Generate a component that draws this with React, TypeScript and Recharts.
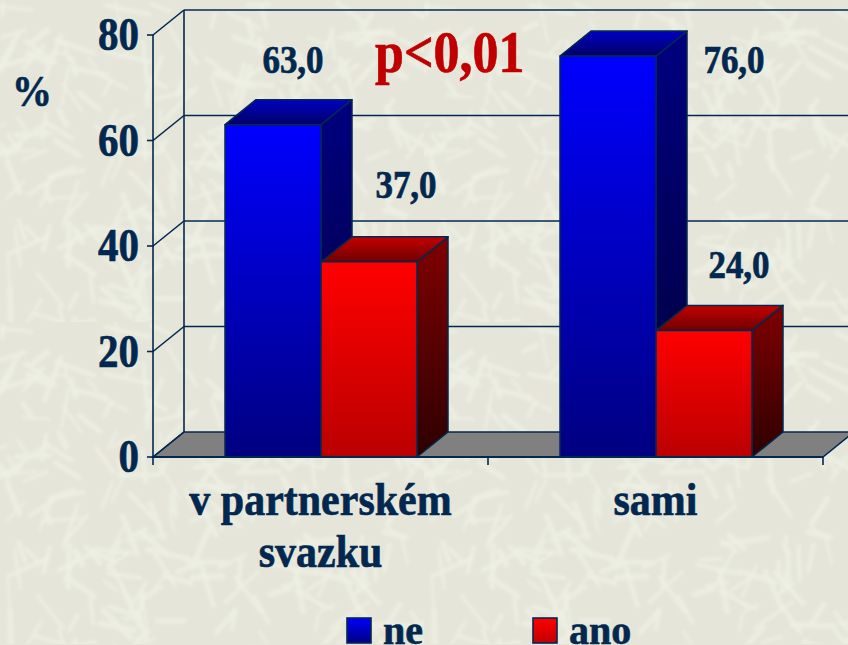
import { Bar, BarChart, CartesianGrid, LabelList, Legend, XAxis, YAxis } from "recharts";

const categories = ["v partnerském\nsvazku", "sami"];
const neValues = [63, 76];
const anoValues = [37, 24];
const yTicks = [0, 20, 40, 60, 80];

const INK = "#03284f";
const DEPTH_X = 31;
const DEPTH_Y = 25;
const FONT = "'Liberation Serif', serif";

const data = categories.map((name, i) => ({ name, ne: neValues[i], ano: anoValues[i] }));

// label placement relative to the bar's centre / top, the original has them hand placed
const neLabelShift = [{ dx: 20, dy: -52 }, { dx: 126, dy: 17 }];
const anoLabelShift = [{ dx: 37, dy: -64 }, { dx: 35, dy: -52 }];

// straw texture of the slide background, tiled
function backgroundTile() {
  const w = 424;
  const h = 322;
  let seed = 11;
  const next = () => {
    seed = (seed * 16807) % 2147483647;
    return seed / 2147483647;
  };
  let lines = "";
  for (let i = 0; i < 280; i++) {
    const x = next() * w;
    const y = next() * h;
    const a = next() * Math.PI;
    const len = 12 + next() * 34;
    const x2 = (x + Math.cos(a) * len).toFixed(1);
    const y2 = (y + Math.sin(a) * len).toFixed(1);
    const sw = (2.5 + next() * 3.5).toFixed(1);
    lines += `<line x1='${x.toFixed(1)}' y1='${y.toFixed(1)}' x2='${x2}' y2='${y2}' stroke-width='${sw}'/>`;
  }
  const svg = `<svg xmlns='http://www.w3.org/2000/svg' width='${w}' height='${h}'><defs><filter id='b'><feGaussianBlur stdDeviation='1.4'/></filter></defs><rect width='${w}' height='${h}' fill='#e5e6d9'/><g stroke='#eff0e4' stroke-opacity='0.75' stroke-linecap='round' filter='url(#b)'>${lines}</g></svg>`;
  return `url("data:image/svg+xml,${encodeURIComponent(svg)}")`;
}

function StretchedText({ x, y, size, anchor = "middle", fill = INK, children }: any) {
  return (
    <text
      transform={`translate(${x},${y}) scale(1,1.12)`}
      textAnchor={anchor}
      fontFamily={FONT}
      fontWeight="bold"
      fontSize={size}
      fill={fill}
      stroke={fill}
      strokeWidth={0.6}
    >
      {children}
    </text>
  );
}

function Bar3D({ x, y, width, height, fill }: any) {
  const color = fill === "url(#neFront)" ? "ne" : "ano";
  const r = x + width;
  const b = y + height;
  return (
    <g stroke={INK} strokeWidth={1.5} strokeLinejoin="round">
      <polygon
        points={`${r},${y} ${r + DEPTH_X},${y - DEPTH_Y} ${r + DEPTH_X},${b - DEPTH_Y} ${r},${b}`}
        fill={`url(#${color}Side)`}
      />
      <polygon
        points={`${x},${y} ${x + DEPTH_X},${y - DEPTH_Y} ${r + DEPTH_X},${y - DEPTH_Y} ${r},${y}`}
        fill={`url(#${color}Top)`}
      />
      <rect x={x} y={y} width={width} height={height} fill={fill} />
    </g>
  );
}

// back wall line for each y tick, plus the slanted link to the front axis and the floor
function WallLine({ x1, x2, y1 }: any) {
  const isFloor = Math.abs(y1 - 457) < 1;
  return (
    <g stroke={INK} strokeWidth={1.6} fill="none">
      {isFloor && (
        <polygon
          points={`${x1},${y1} ${x1 + DEPTH_X},${y1 - DEPTH_Y} ${x2 + DEPTH_X},${y1 - DEPTH_Y} ${x2},${y1}`}
          fill="#808080"
        />
      )}
      {!isFloor && <line x1={x1 + DEPTH_X} y1={y1 - DEPTH_Y} x2={x2 + DEPTH_X} y2={y1 - DEPTH_Y} />}
      <line x1={x1} y1={y1} x2={x1 + DEPTH_X} y2={y1 - DEPTH_Y} />
      {isFloor && <line x1={x1 + DEPTH_X} y1={y1 - DEPTH_Y} x2={x1 + DEPTH_X} y2={35 - DEPTH_Y} />}
    </g>
  );
}

function YTick({ x, y, payload }: any) {
  return (
    <g>
      <line x1={x + 7} x2={x + 0} y1={y} y2={y} stroke={INK} strokeWidth={1.6} />
      <StretchedText x={x - 8} y={y + 15} size={41} anchor="end">
        {payload.value}
      </StretchedText>
    </g>
  );
}

function XTick({ x, y, payload, index, width }: any) {
  const half = width / categories.length / 2;
  const lines = String(payload.value).split("\n");
  return (
    <g>
      <line x1={x - half} x2={x - half} y1={y - 8} y2={y} stroke={INK} strokeWidth={1.6} />
      {index === categories.length - 1 && (
        <line x1={x + half} x2={x + half} y1={y - 8} y2={y} stroke={INK} strokeWidth={1.6} />
      )}
      {lines.map((line, i) => (
        <StretchedText key={line} x={x} y={y + 50 + i * 52} size={42}>
          {line}
        </StretchedText>
      ))}
    </g>
  );
}

function valueLabel(shifts: { dx: number; dy: number }[]) {
  return ({ x, y, width, value, index }: any) => (
    <StretchedText x={x + width / 2 + shifts[index].dx} y={y + shifts[index].dy} size={35}>
      {Number(value).toFixed(1).replace(".", ",")}
    </StretchedText>
  );
}

function LegendRow({ payload }: any) {
  return (
    <div style={{ position: "relative", height: 37, width: 848 }}>
      {(payload || []).map((item: any, i: number) => (
        <div
          key={item.value}
          style={{
            position: "absolute",
            left: i === 0 ? 346 : 532,
            top: 0,
            height: 37,
            display: "flex",
            alignItems: "flex-start",
          }}
        >
          <svg width={26} height={27} style={{ marginTop: 9 }}>
            <defs>
              <linearGradient id={`sw${i}`} x1="0" y1="0" x2="0" y2="1">
                <stop offset="0" stopColor={i === 0 ? "#0000ff" : "#ff0000"} />
                <stop offset="1" stopColor={i === 0 ? "#000080" : "#c00000"} />
              </linearGradient>
            </defs>
            <rect x={1} y={1} width={24} height={25} fill={`url(#sw${i})`} stroke={INK} strokeWidth={1.6} />
          </svg>
          <span
            style={{
              display: "block",
              height: 37,
              fontFamily: FONT,
              fontWeight: "bold",
              fontSize: 40,
              color: INK,
              marginLeft: 11,
              lineHeight: "46px",
              WebkitTextStroke: `0.6px ${INK}`,
            }}
          >
            {item.value}
          </span>
        </div>
      ))}
    </div>
  );
}

export default function App() {
  return (
    <div
      style={{
        position: "absolute",
        left: 0,
        top: 0,
        width: 848,
        height: 645,
        overflow: "hidden",
        backgroundImage: backgroundTile(),
      }}
    >
      <BarChart
        width={848}
        height={645}
        data={data}
        margin={{ top: 35, left: 93, right: 25, bottom: 128 }}
        barCategoryGap={72}
        barGap={0}
        style={{ overflow: "hidden" }}
      >
        <defs>
          <linearGradient id="neFront" x1="0" y1="0" x2="0" y2="1">
            <stop offset="0" stopColor="#0000ff" />
            <stop offset="1" stopColor="#000080" />
          </linearGradient>
          <linearGradient id="neSide" x1="0" y1="0" x2="0" y2="1">
            <stop offset="0" stopColor="#000080" />
            <stop offset="1" stopColor="#000038" />
          </linearGradient>
          <linearGradient id="neTop" x1="0" y1="0" x2="0" y2="1">
            <stop offset="0" stopColor="#0000c4" />
            <stop offset="1" stopColor="#000066" />
          </linearGradient>
          <linearGradient id="anoFront" x1="0" y1="0" x2="0" y2="1">
            <stop offset="0" stopColor="#ff0000" />
            <stop offset="1" stopColor="#bb0000" />
          </linearGradient>
          <linearGradient id="anoSide" x1="0" y1="0" x2="0" y2="1">
            <stop offset="0" stopColor="#800000" />
            <stop offset="1" stopColor="#2e0000" />
          </linearGradient>
          <linearGradient id="anoTop" x1="0" y1="0" x2="0" y2="1">
            <stop offset="0" stopColor="#c40000" />
            <stop offset="1" stopColor="#700000" />
          </linearGradient>
        </defs>
        <CartesianGrid vertical={false} horizontal={(props: any) => <WallLine key={props.y1} {...props} />} />
        <XAxis
          dataKey="name"
          height={60}
          interval={0}
          axisLine={{ stroke: INK, strokeWidth: 2 }}
          tickLine={false}
          tick={<XTick />}
        />
        <YAxis
          width={60}
          domain={[0, 80]}
          ticks={yTicks}
          interval={0}
          axisLine={{ stroke: INK, strokeWidth: 1.6 }}
          tickLine={false}
          tickMargin={0}
          tick={<YTick />}
        />
        <Legend
          layout="horizontal"
          align="center"
          verticalAlign="middle"
          itemSorter={null}
          content={<LegendRow />}
          wrapperStyle={{ top: 608, left: 0, width: 848, height: 37 }}
        />
        <Bar dataKey="ne" name="ne" fill="url(#neFront)" shape={<Bar3D />} isAnimationActive={false}>
          <LabelList dataKey="ne" content={valueLabel(neLabelShift)} />
        </Bar>
        <Bar dataKey="ano" name="ano" fill="url(#anoFront)" shape={<Bar3D />} isAnimationActive={false}>
          <LabelList dataKey="ano" content={valueLabel(anoLabelShift)} />
        </Bar>
        <StretchedText x={12} y={106} size={40} anchor="start">
          %
        </StretchedText>
        <StretchedText x={375} y={72} size={52} anchor="start" fill="#c00000">
          p&lt;0,01
        </StretchedText>
      </BarChart>
    </div>
  );
}
